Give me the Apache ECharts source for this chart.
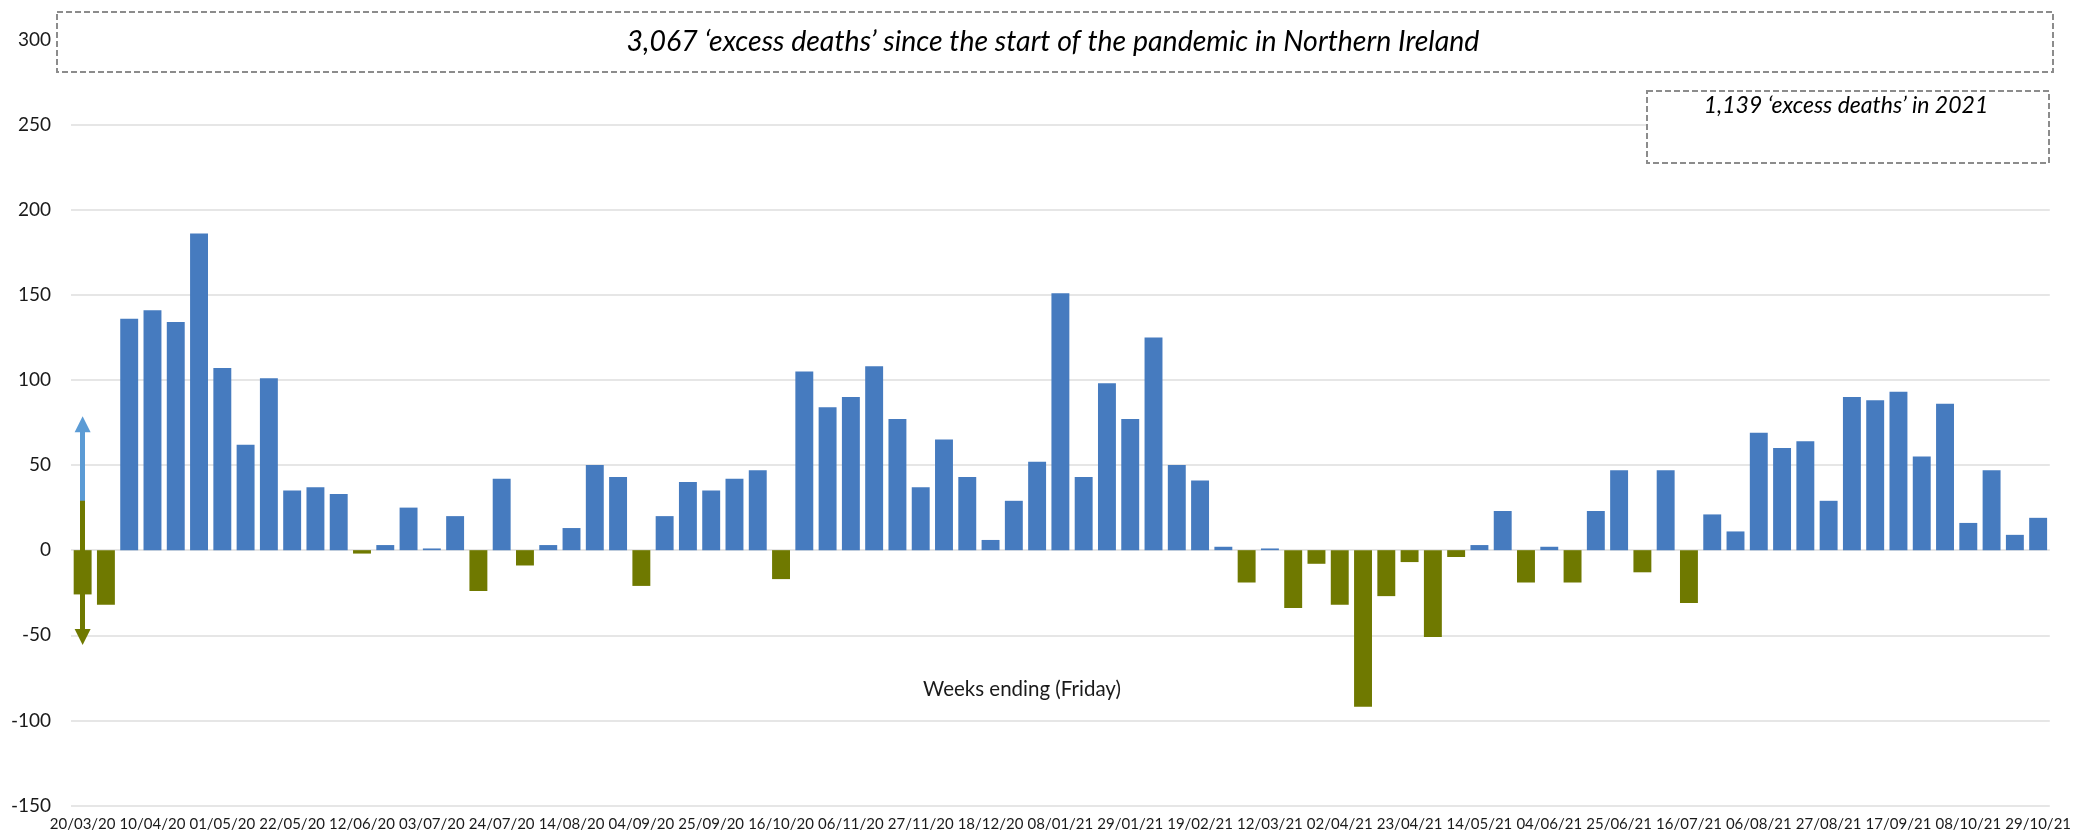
<!DOCTYPE html>
<html>
<head>
<meta charset="utf-8">
<script src="https://cdn.jsdelivr.net/npm/echarts@6/dist/echarts.min.js"></script>
<style>
  html, body { margin: 0; padding: 0; background: #ffffff; }
  #container { width: 2074px; height: 834px; }
</style>
</head>
<body>
<div id="container"></div>
<script>
// weeks ending (Friday)
var weeks = [
  '20/03/20','27/03/20','03/04/20','10/04/20','17/04/20','24/04/20','01/05/20','08/05/20','15/05/20','22/05/20',
  '29/05/20','05/06/20','12/06/20','19/06/20','26/06/20','03/07/20','10/07/20','17/07/20','24/07/20','31/07/20',
  '07/08/20','14/08/20','21/08/20','28/08/20','04/09/20','11/09/20','18/09/20','25/09/20','02/10/20','09/10/20',
  '16/10/20','23/10/20','30/10/20','06/11/20','13/11/20','20/11/20','27/11/20','04/12/20','11/12/20','18/12/20',
  '25/12/20','01/01/21','08/01/21','15/01/21','22/01/21','29/01/21','05/02/21','12/02/21','19/02/21','26/02/21',
  '05/03/21','12/03/21','19/03/21','26/03/21','02/04/21','09/04/21','16/04/21','23/04/21','30/04/21','07/05/21',
  '14/05/21','21/05/21','28/05/21','04/06/21','11/06/21','18/06/21','25/06/21','02/07/21','09/07/21','16/07/21',
  '23/07/21','30/07/21','06/08/21','13/08/21','20/08/21','27/08/21','03/09/21','10/09/21','17/09/21','24/09/21',
  '01/10/21','08/10/21','15/10/21','22/10/21','29/10/21'
];

// excess deaths per week
var excess = [
  -26, -32, 136, 141, 134, 186, 107, 62, 101, 35,
  37, 33, -2, 3, 25, 1, 20, -24, 42, -9,
  3, 13, 50, 43, -21, 20, 40, 35, 42, 47,
  -17, 105, 84, 90, 108, 77, 37, 65, 43, 6,
  29, 52, 151, 43, 98, 77, 125, 50, 41, 2,
  -19, 1, -34, -8, -32, -92, -27, -7, -51, -4,
  3, 23, -19, 2, -19, 23, 47, -13, 47, -31,
  21, 11, 69, 60, 64, 29, 90, 88, 93, 55,
  86, 16, 47, 9, 19
];

var yTicks = [-150, 300, 50];   // min, max, step

// arrow annotations on the first week: [from, to]
var upArrow = [20, 74];
var downArrow = [29, -51];

var titleText = '3,067 \u2018excess deaths\u2019 since the start of the pandemic in Northern Ireland';
var boxText = '1,139 \u2018excess deaths\u2019 in 2021';
var axisTitle = 'Weeks ending (Friday)';

var blue = '#467BBF';
var olive = '#6F7900';
var font = 'Lato';

var dom = document.getElementById('container');
var myChart = echarts.init(dom, null, { renderer: 'canvas' });

var option = {
    animation: false,
    backgroundColor: '#ffffff',
    grid: { left: 71, right: 20, top: 39.5, bottom: 28.5, containLabel: false },
    xAxis: {
        type: 'category',
        data: weeks,
        position: 'bottom',
        axisLine: { show: false, onZero: false },
        axisTick: { show: false },
        axisLabel: {
            interval: 2,
            margin: 11,
            fontFamily: font,
            fontSize: 15,
            color: '#1a1a1a'
        },
        splitLine: { show: false }
    },
    yAxis: {
        type: 'value',
        min: yTicks[0],
        max: yTicks[1],
        interval: yTicks[2],
        axisLine: { show: false },
        axisTick: { show: false },
        axisLabel: {
            margin: 20,
            fontFamily: font,
            fontSize: 19,
            color: '#1a1a1a'
        },
        splitLine: { lineStyle: { color: '#E6E6E6', width: 2 } }
    },
    series: [
        {
            name: 'Excess deaths',
            type: 'bar',
            data: excess,
            barCategoryGap: '23%',
            itemStyle: {
                color: function (p) { return p.value < 0 ? olive : blue; }
            },
            markLine: {
                silent: true,
                animation: false,
                symbol: ['none', 'triangle'],
                symbolSize: [16, 16],
                label: { show: false },
                emphasis: { disabled: true },
                data: [
                    [
                        { coord: [0, upArrow[0]], lineStyle: { color: '#5B9BD5', width: 5, type: 'solid' } },
                        { coord: [0, upArrow[1]] }
                    ],
                    [
                        { coord: [0, downArrow[0]], lineStyle: { color: olive, width: 5, type: 'solid' } },
                        { coord: [0, downArrow[1]] }
                    ]
                ]
            }
        }
    ],
    graphic: [
        {
            type: 'rect',
            z: 100,
            shape: { x: 57, y: 12, width: 1996, height: 60 },
            style: { fill: '#ffffff', stroke: '#8C8C8C', lineWidth: 2, lineDash: [6, 3] }
        },
        {
            type: 'text',
            z: 101,
            x: 1053,
            y: 42,
            style: {
                text: titleText,
                fontFamily: font,
                fontStyle: 'italic',
                fontSize: 28.5,
                fill: '#000000',
                align: 'center',
                verticalAlign: 'middle'
            }
        },
        {
            type: 'rect',
            z: 100,
            shape: { x: 1647, y: 91, width: 402, height: 72 },
            style: { fill: '#ffffff', stroke: '#8C8C8C', lineWidth: 2, lineDash: [6, 3] }
        },
        {
            type: 'text',
            z: 101,
            x: 1846,
            y: 106,
            style: {
                text: boxText,
                fontFamily: font,
                fontStyle: 'italic',
                fontSize: 23,
                fill: '#000000',
                align: 'center',
                verticalAlign: 'middle'
            }
        },
        {
            type: 'text',
            z: 101,
            x: 1022,
            y: 689,
            style: {
                text: axisTitle,
                fontFamily: font,
                fontSize: 20.5,
                fill: '#1a1a1a',
                align: 'center',
                verticalAlign: 'middle'
            }
        }
    ]
};

if (option && typeof option === 'object') {
    myChart.setOption(option);
}

window.addEventListener('resize', myChart.resize);
</script>
</body>
</html>
